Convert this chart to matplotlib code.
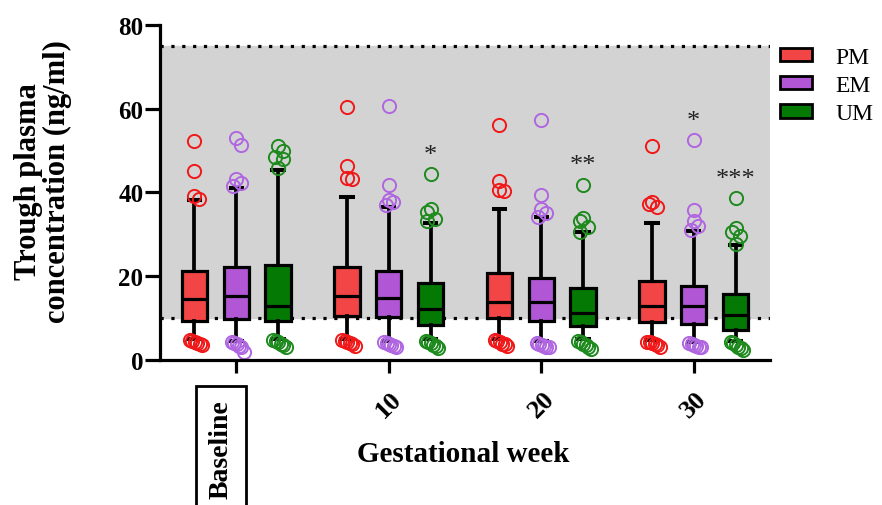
import matplotlib.pyplot as plt

plt.rcParams['font.family'] = ['Liberation Serif', 'DejaVu Serif']

weeks = ['Baseline', '10', '20', '30']
groups = ['PM', 'EM', 'UM']
box_colors = ['#F24545', '#B157D6', '#047A04']
dot_colors = ['#F01818', '#B066E0', '#1E8A1E']

# per group: one value per week (Baseline, 10, 20, 30)
q1 = {'PM': [9.4, 10.6, 10.0, 9.0], 'EM': [9.8, 10.3, 9.4, 8.6], 'UM': [9.4, 8.3, 8.0, 7.2]}
med = {'PM': [14.5, 15.2, 13.9, 12.8], 'EM': [15.3, 14.9, 13.9, 12.9], 'UM': [12.9, 12.1, 11.3, 10.7]}
q3 = {'PM': [21.3, 22.1, 20.7, 18.9], 'EM': [22.3, 21.3, 19.5, 17.7], 'UM': [22.6, 18.5, 17.3, 15.7]}
whis_hi = {'PM': [38.3, 39.0, 36.1, 32.6], 'EM': [41.1, 36.6, 34.2, 30.8], 'UM': [45.3, 32.6, 30.6, 27.4]}
whis_lo = {'PM': [5.0, 5.0, 5.0, 4.8], 'EM': [4.6, 4.6, 4.5, 4.4], 'UM': [5.0, 4.9, 4.9, 4.6]}

out_hi = {
    'PM': [[52.2, 45.1, 39.1, 38.5], [60.3, 46.3, 43.5, 43.2], [56.2, 42.7, 40.6, 40.4], [51.0, 37.7, 37.3, 36.5]],
    'EM': [[53.0, 51.4, 43.3, 42.3, 41.6], [60.7, 41.8, 38.3, 37.7, 36.9], [57.2, 39.3, 36.0, 35.2, 34.2], [52.5, 35.8, 33.2, 31.9, 31.0]],
    'UM': [[51.0, 49.8, 48.5, 47.9, 45.9], [44.3, 36.0, 35.3, 33.6, 33.2], [41.9, 34.0, 33.2, 31.8, 30.5], [38.6, 31.6, 30.5, 29.7, 27.6]],
}
out_lo = {
    'PM': [[4.8, 4.6, 4.3, 4.1, 3.8, 3.5], [4.8, 4.5, 4.3, 4.0, 3.7, 3.4], [4.8, 4.5, 4.2, 3.9, 3.7, 3.4], [4.4, 4.2, 4.0, 3.7, 3.5, 3.2]],
    'EM': [[4.2, 4.0, 3.7, 3.4, 3.0, 1.8], [4.3, 4.0, 3.8, 3.5, 3.3, 3.1], [4.1, 3.9, 3.6, 3.4, 3.2, 3.0], [4.0, 3.8, 3.6, 3.4, 3.2, 3.0]],
    'UM': [[4.8, 4.5, 4.2, 3.8, 3.5, 3.1], [4.6, 4.3, 4.0, 3.6, 3.3, 2.9], [4.6, 4.3, 3.9, 3.5, 3.1, 2.7], [4.3, 4.0, 3.6, 3.2, 2.8, 2.4]],
}
stars = {'EM': ['', '', '', '*'], 'UM': ['', '*', '**', '***']}
ref_low, ref_high = 10, 75

fig = plt.figure(figsize=(8.82, 5.06), dpi=100)
ax = fig.add_axes([0.1814, 0.2866, 0.8730 - 0.1814, 0.9486 - 0.2866])

ax.axhspan(ref_low, ref_high, color='#D3D3D3', zorder=0)
for yv in (ref_low, ref_high):
    ax.axhline(yv, color='black', lw=2.3, ls=(0, (1, 2.4)), zorder=1)

offset = 0.274
width = 0.165
lw = 2.3
for gi, g in enumerate(groups):
    stats = []
    pos = []
    for wi in range(len(weeks)):
        stats.append(dict(med=med[g][wi], q1=q1[g][wi], q3=q3[g][wi],
                          whislo=whis_lo[g][wi], whishi=whis_hi[g][wi], fliers=[]))
        pos.append(wi + (gi - 1) * offset)
    ax.bxp(stats, positions=pos, widths=width, patch_artist=True, showfliers=False,
           capwidths=0.075,
           boxprops=dict(facecolor=box_colors[gi], edgecolor='black', linewidth=lw),
           medianprops=dict(color='black', linewidth=lw),
           whiskerprops=dict(color='black', linewidth=lw + 0.4),
           capprops=dict(color='black', linewidth=lw + 0.6), zorder=3)
    # outliers, spread sideways a little like the original software
    for wi in range(len(weeks)):
        x0 = pos[wi]
        hi = out_hi[g][wi]
        hx = []
        for k, v in enumerate(hi):
            if k > 0 and hi[k - 1] - v < 2.0:
                hx.append(x0 + (0.03 if len(hx) % 2 else -0.02))
            else:
                hx.append(x0)
        ax.plot(hx, hi, 'o', ms=9.5, mfc='none', mec=dot_colors[gi], mew=1.4, zorder=4)
        lo = out_lo[g][wi]
        n = len(lo)
        lx = [x0 + (k - (n - 1) / 2) * 0.016 + 0.01 for k in range(n)]
        ax.plot(lx, lo, 'o', ms=9.5, mfc='none', mec=dot_colors[gi], mew=1.4, zorder=4)
        if g in stars and stars[g][wi]:
            ax.text(x0, max(hi) + 4.6, stars[g][wi], ha='center', va='center',
                    fontsize=19, color='#222222', zorder=5)

ax.set_xlim(-0.5, 3.5)
ax.set_ylim(0, 80)
ax.set_yticks([0, 20, 40, 60, 80])
ax.set_xticks(range(len(weeks)))
ax.set_xticklabels([''] + weeks[1:])
for spine in ('top', 'right'):
    ax.spines[spine].set_visible(False)
for spine in ('left', 'bottom'):
    ax.spines[spine].set_linewidth(2.3)
    ax.spines[spine].set_zorder(6)
ax.tick_params(axis='y', length=11, width=2.3, labelsize=18, pad=1)
ax.tick_params(axis='x', length=9, width=2.3, labelsize=19, pad=10)
for lab in ax.get_yticklabels():
    lab.set_fontweight('bold')
for lab in ax.get_xticklabels():
    lab.set_fontweight('bold')
    lab.set_rotation(45)
    lab.set_va('top')
    lab.set_ha('center')

# boxed, upright "Baseline" label under the first tick
ax.annotate(weeks[0], xy=(0, 0), xycoords=('data', 'axes fraction'), xytext=(-2, -28),
            textcoords='offset points', rotation=90, ha='right', va='top',
            fontsize=20, fontweight='bold', annotation_clip=False,
            bbox=dict(facecolor='white', edgecolor='black', linewidth=2, pad=9))

fig.text(463 / 882, 1 - 455 / 506, 'Gestational week', ha='center', va='center',
         fontsize=21, fontweight='bold')
fig.text(43 / 882, 1 - 182 / 506, 'Trough plasma\nconcentration (ng/ml)', ha='center', va='center',
         rotation=90, fontsize=22, fontweight='bold', multialignment='center', linespacing=1.02)

handles = [plt.Rectangle((0, 0), 1, 1, facecolor=c, edgecolor='black', linewidth=2) for c in box_colors]
fig.legend(handles, groups, loc='upper left', bbox_to_anchor=(780 / 882, 1 - 48 / 506),
           frameon=False, fontsize=17, handlelength=1.35, handleheight=0.5,
           handletextpad=1.0, labelspacing=0.3, borderaxespad=0, borderpad=0)

fig.savefig('out.png', dpi=100)
